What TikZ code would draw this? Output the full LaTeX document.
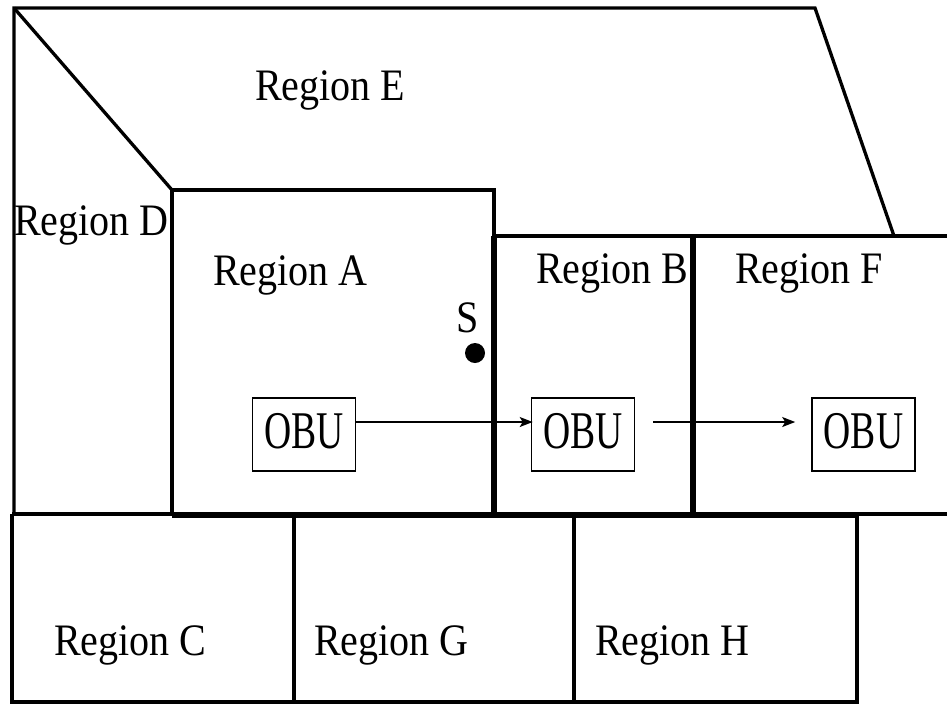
\documentclass[tikz,border=0pt]{standalone}
\usepackage{fontspec}
\setmainfont[FakeStretch=0.89]{Liberation Serif}
\newfontfamily\obufont[FakeStretch=0.71]{Liberation Serif}
\usetikzlibrary{arrows.meta}
\begin{document}
\begin{tikzpicture}[x=1pt,y=-1pt,
  wall/.style={line width=3.3pt,line join=miter},
  heavy/.style={line width=6.5pt},
  lbl/.style={inner sep=0pt,anchor=base west,font=\fontsize{45}{52}\selectfont},
  obu/.style={draw,line width=1.6pt,minimum width=103pt,minimum height=73pt,inner sep=0pt,text depth=7pt,font=\obufont\fontsize{53}{60}\selectfont},
  flow/.style={line width=1.5pt,-{Stealth[length=13pt,width=10pt,inset=3pt]}}]
\useasboundingbox (0,0) rectangle (947,705);
\fill[white] (0,0) rectangle (947,705);

% outer boundary of region E and the slanted edges
\draw[wall] (14,515) -- (14,8) -- (815,8) -- (894,236);
\draw[wall] (14,8) -- (172,190);

% region A
\draw[wall] (172,515) -- (172,190) -- (494,190) -- (494,236);
\draw[heavy] (494,236) -- (494,518);

% top edge of regions B and F
\draw[wall] (494,236) -- (947,236);
\draw[heavy] (693,236) -- (693,518);

% horizontal divider above the lower row
\draw[wall] (12,514) -- (947,514);
\draw[heavy] (172,515) -- (857,515);

% lower row: regions C, G, H
\draw[wall] (12,514) -- (12,702) -- (857,702) -- (857,514);
\draw[wall] (294,514) -- (294,702);
\draw[wall] (574,514) -- (574,702);

% region labels
\node[lbl] (lE) at (255,100) {Region E};
\node[lbl] (lD) at (14,235) {Region D};
\node[lbl] (lA) at (213,285) {Region A};
\node[lbl] (lB) at (536,283) {Region B};
\node[lbl] (lF) at (735,283) {Region F};
\node[lbl] (lC) at (54,655) {Region C};
\node[lbl] (lG) at (314,655) {Region G};
\node[lbl] (lH) at (595,655) {Region H};

% point S
\node[lbl] (s) at (456,332) {S};
\fill (475,353) circle[radius=10pt];
\coordinate (sdot) at (475,353);

% on-board units and their movement
\node[obu] (o1) at (304,434.5) {OBU};
\node[obu] (o2) at (583,434.5) {OBU};
\node[obu] (o3) at (863.5,434.5) {OBU};
\draw[flow] ([yshift=12.5pt]o1.east) -- ([yshift=12.5pt,xshift=2pt]o2.west);
\draw[flow] ([yshift=12.5pt,xshift=18pt]o2.east) -- ([yshift=12.5pt,xshift=-16pt]o3.west);
\end{tikzpicture}
\end{document}
